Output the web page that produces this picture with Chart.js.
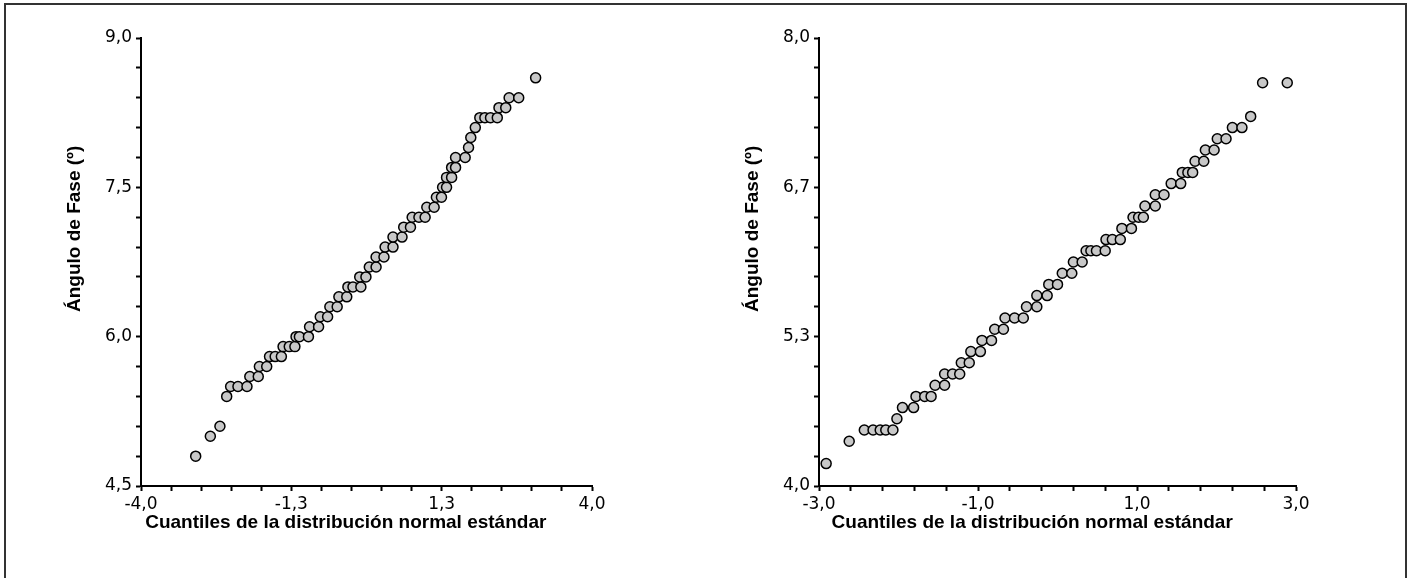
<!DOCTYPE html>
<html>
<head>
<meta charset="utf-8">
<script src="https://cdn.jsdelivr.net/npm/chart.js@4/dist/chart.umd.min.js"></script>
<style>
    html, body { margin: 0; padding: 0; background: #fff; overflow: hidden; }
    body { width: 1411px; height: 578px; position: relative; }
    #frame { position: absolute; left: 4px; top: 3px; width: 1399px; height: 640px; border: 2px solid #333; }
    .box { position: absolute; top: 0; height: 578px; }
    #boxLeft { left: 0; width: 705px; }
    #boxRight { left: 705px; width: 706px; }
</style>
</head>
<body>
<div id="frame"></div>
<div class="box" id="boxLeft"><canvas id="leftChart"></canvas></div>
<div class="box" id="boxRight"><canvas id="rightChart"></canvas></div>

<script>
// left panel: quantiles vs phase angle
const leftX = [-3.03, -2.77, -2.60, -2.48, -2.41, -2.28, -2.12, -2.07, -1.92, -1.90,
    -1.77, -1.72, -1.62, -1.51, -1.48, -1.37, -1.27, -1.25, -1.19, -1.03,
    -1.01, -0.85, -0.82, -0.69, -0.65, -0.52, -0.49, -0.35, -0.33, -0.24,
    -0.10, -0.12, -0.01, 0.05, 0.17, 0.17, 0.31, 0.33, 0.47, 0.47,
    0.63, 0.66, 0.78, 0.81, 0.93, 1.04, 1.07, 1.20, 1.24, 1.33,
    1.35, 1.42, 1.42, 1.51, 1.51, 1.58, 1.58, 1.75, 1.81, 1.85,
    1.93, 2.01, 2.10, 2.20, 2.32, 2.35, 2.47, 2.53, 2.70, 3.00];
const leftY = [4.8, 5.0, 5.1, 5.4, 5.5, 5.5, 5.5, 5.6, 5.6, 5.7,
    5.7, 5.8, 5.8, 5.8, 5.9, 5.9, 5.9, 6.0, 6.0, 6.0,
    6.1, 6.1, 6.2, 6.2, 6.3, 6.3, 6.4, 6.4, 6.5, 6.5,
    6.5, 6.6, 6.6, 6.7, 6.7, 6.8, 6.8, 6.9, 6.9, 7.0,
    7.0, 7.1, 7.1, 7.2, 7.2, 7.2, 7.3, 7.3, 7.4, 7.4,
    7.5, 7.5, 7.6, 7.6, 7.7, 7.7, 7.8, 7.8, 7.9, 8.0,
    8.1, 8.2, 8.2, 8.2, 8.2, 8.3, 8.3, 8.4, 8.4, 8.6];
const leftXLabels = ['-4,0', '-1,3', '1,3', '4,0'];
const leftYLabels = ['4,5', '6,0', '7,5', '9,0'];

// right panel
const rightX = [-2.91, -2.62, -2.43, -2.32, -2.23, -2.16, -2.07, -2.02, -1.95, -1.81,
    -1.78, -1.67, -1.59, -1.54, -1.42, -1.42, -1.32, -1.23, -1.21, -1.11,
    -1.09, -0.97, -0.95, -0.83, -0.79, -0.68, -0.66, -0.54, -0.43, -0.39,
    -0.26, -0.26, -0.13, -0.11, 0.00, 0.06, 0.18, 0.20, 0.31, 0.36,
    0.42, 0.49, 0.60, 0.61, 0.69, 0.79, 0.81, 0.93, 0.95, 1.02,
    1.08, 1.10, 1.23, 1.23, 1.34, 1.43, 1.55, 1.57, 1.64, 1.70,
    1.73, 1.84, 1.86, 1.97, 2.01, 2.12, 2.20, 2.32, 2.43, 2.58, 2.89];
const rightY = [4.2, 4.4, 4.5, 4.5, 4.5, 4.5, 4.5, 4.6, 4.7, 4.7,
    4.8, 4.8, 4.8, 4.9, 4.9, 5.0, 5.0, 5.0, 5.1, 5.1,
    5.2, 5.2, 5.3, 5.3, 5.4, 5.4, 5.5, 5.5, 5.5, 5.6,
    5.6, 5.7, 5.7, 5.8, 5.8, 5.9, 5.9, 6.0, 6.0, 6.1,
    6.1, 6.1, 6.1, 6.2, 6.2, 6.2, 6.3, 6.3, 6.4, 6.4,
    6.4, 6.5, 6.5, 6.6, 6.6, 6.7, 6.7, 6.8, 6.8, 6.8,
    6.9, 6.9, 7.0, 7.0, 7.1, 7.1, 7.2, 7.2, 7.3, 7.6, 7.6];
const rightXLabels = ['-3,0', '-1,0', '1,0', '3,0'];
const rightYLabels = ['4,0', '5,3', '6,7', '8,0'];

const xTitle = 'Cuantiles de la distribución normal estándar';
const yTitle = 'Ángulo de Fase (º)';

const tickFont = { family: 'DejaVu Sans', size: 17 };
const titleFont = 'bold 19px "Liberation Sans", Arial, sans-serif';

// 15 tick intervals, label on every 5th one
function axis(min, max, labels, fitSize, isX) {
    return {
        type: 'linear',
        min: min,
        max: max,
        afterBuildTicks: (scale) => {
            const ticks = [];
            for (let i = 0; i <= 15; i++) ticks.push({ value: min + i * (max - min) / 15 });
            scale.ticks = ticks;
        },
        afterFit: (scale) => {
            if (isX) scale.height = fitSize; else scale.width = fitSize;
        },
        ticks: {
            autoSkip: false,
            maxRotation: 0,
            color: '#000',
            font: tickFont,
            padding: isX ? 3 : 4,
            callback: (value, index) => index % 5 === 0 ? labels[index / 5] : ''
        },
        grid: {
            drawOnChartArea: false,
            drawTicks: true,
            tickLength: 5,
            tickWidth: 2,
            color: '#000'
        },
        border: { display: true, color: '#000', width: 2 }
    };
}

const titlesPlugin = {
    id: 'titles',
    afterDraw(chart, args, opts) {
        const ctx = chart.ctx;
        const area = chart.chartArea;
        ctx.save();
        ctx.fillStyle = '#000';
        ctx.textAlign = 'center';
        ctx.textBaseline = 'middle';
        ctx.font = titleFont;
        ctx.fillText(xTitle, area.left + opts.xPos * area.width, area.bottom + 37);
        ctx.translate(area.left - 66, area.top + opts.yPos * area.height);
        ctx.rotate(-Math.PI / 2);
        ctx.fillText(yTitle, 0, 0);
        ctx.restore();
    }
};

function makeChart(id, xs, ys, xMin, xMax, xLabels, yMin, yMax, yLabels, leftW, rightPad, xPos) {
    const points = xs.map((x, i) => ({ x: x, y: ys[i] }));
    return new Chart(document.getElementById(id), {
        type: 'scatter',
        data: {
            datasets: [{
                data: points,
                pointRadius: 5,
                pointHoverRadius: 5,
                pointBackgroundColor: '#c8c8c8',
                pointBorderColor: '#000',
                pointBorderWidth: 1.5
            }]
        },
        options: {
            responsive: true,
            maintainAspectRatio: false,
            animation: false,
            layout: { padding: { left: 0, right: rightPad, top: 38, bottom: 0 } },
            plugins: {
                legend: { display: false },
                tooltip: { enabled: false },
                titles: { xPos: xPos, yPos: 0.426 }
            },
            scales: {
                x: axis(xMin, xMax, xLabels, 92, true),
                y: axis(yMin, yMax, yLabels, leftW, false)
            }
        },
        plugins: [titlesPlugin]
    });
}

makeChart('leftChart', leftX, leftY, -4, 4, leftXLabels, 4.5, 9, leftYLabels, 141, 113, 0.454);
makeChart('rightChart', rightX, rightY, -3, 3, rightXLabels, 4, 8, rightYLabels, 114, 115, 0.447);
</script>
</body>
</html>
